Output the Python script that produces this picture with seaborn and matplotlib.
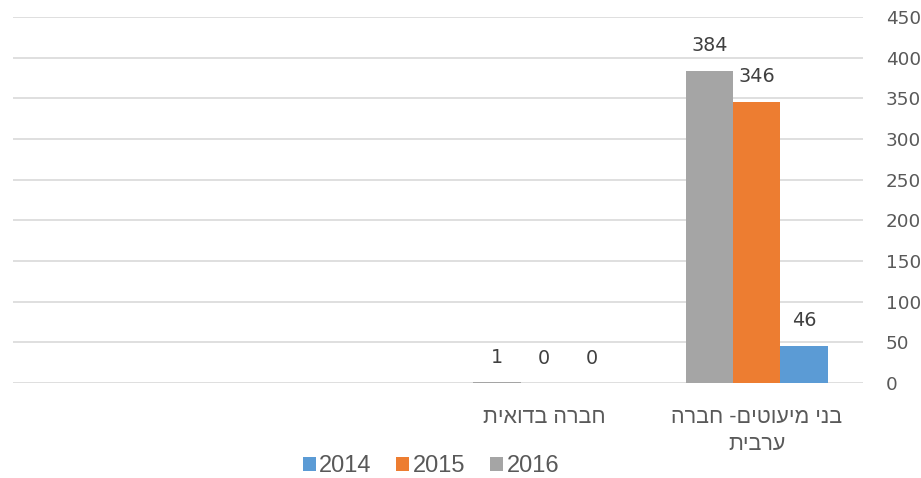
import numpy as np
import pandas as pd
import matplotlib
matplotlib.use("Agg")
import matplotlib.pyplot as plt
from matplotlib.patches import Patch
import seaborn as sns

# ---- data (logical Hebrew order) ----
categories = ["בני מיעוטים- חברה\nערבית", "חברה בדואית", "", ""]
years = ["2014", "2015", "2016"]
values_2014 = [46, 0, np.nan, np.nan]
values_2015 = [346, 0, np.nan, np.nan]
values_2016 = [384, 1, np.nan, np.nan]
y_ticks = [0, 50, 100, 150, 200, 250, 300, 350, 400, 450]
colors = ["#5B9BD5", "#ED7D31", "#A5A5A5"]

def visual(s):
    # matplotlib has no bidi support: reverse each line for RTL display
    return "\n".join(line[::-1] for line in s.split("\n"))

ids = [f"c{i}" for i in range(len(categories))]
rows = []
for yr, vals in zip(years, [values_2014, values_2015, values_2016]):
    for cid, v in zip(ids, vals):
        rows.append({"cat": cid, "year": yr, "value": v})
df = pd.DataFrame(rows)

sns.set_theme(style="white")
plt.rcParams['font.family'] = ['DejaVu Sans']

fig = plt.figure(figsize=(9.21, 4.78), dpi=100)
ax = fig.add_axes([13/921, 1-383/478, (863-13)/921, (383-17)/478])

sns.barplot(data=df, x="cat", y="value", hue="year", order=ids,
            hue_order=years, palette=colors, width=0.67, gap=0,
            saturation=1, edgecolor="none", linewidth=0, ax=ax, legend=False,
            errorbar=None)

ax.set_xlim(len(ids) - 0.5, -0.5)  # RTL: first category on the right
ax.set_ylim(0, 450)
ax.set_yticks(y_ticks)
ax.yaxis.tick_right()
ax.tick_params(axis="y", length=0, pad=16.5, labelsize=13.2, labelcolor="#595959")
ax.tick_params(axis="x", length=0, pad=17.5, labelcolor="#595959")
ax.set_xticks(range(len(ids)))
ax.set_xticklabels([visual(c) for c in categories], linespacing=1.35,
                   family=['Liberation Sans', 'DejaVu Sans'], fontsize=15.5)
ax.set_xlabel("")
ax.set_ylabel("")
ax.grid(axis="y", color="#D9D9D9", linewidth=1.2)
ax.set_axisbelow(True)
for s in ax.spines.values():
    s.set_visible(False)

for cont in ax.containers:
    labels = []
    for bar in cont:
        h = bar.get_height()
        labels.append("" if np.isnan(h) else f"{h:g}")
    ax.bar_label(cont, labels=labels, padding=11, fontsize=13.8, color="#404040")

handles = [Patch(facecolor=c, edgecolor="none") for c in colors]
fig.legend(handles, years, loc="center", bbox_to_anchor=(431/921, 1-466/478),
           ncol=3, frameon=False, handlelength=0.55, handleheight=0.55,
           handletextpad=0.15, columnspacing=1.05,
           prop={"family": "Liberation Sans", "size": 17}, labelcolor="#595959")

fig.savefig("out.png", dpi=100)
